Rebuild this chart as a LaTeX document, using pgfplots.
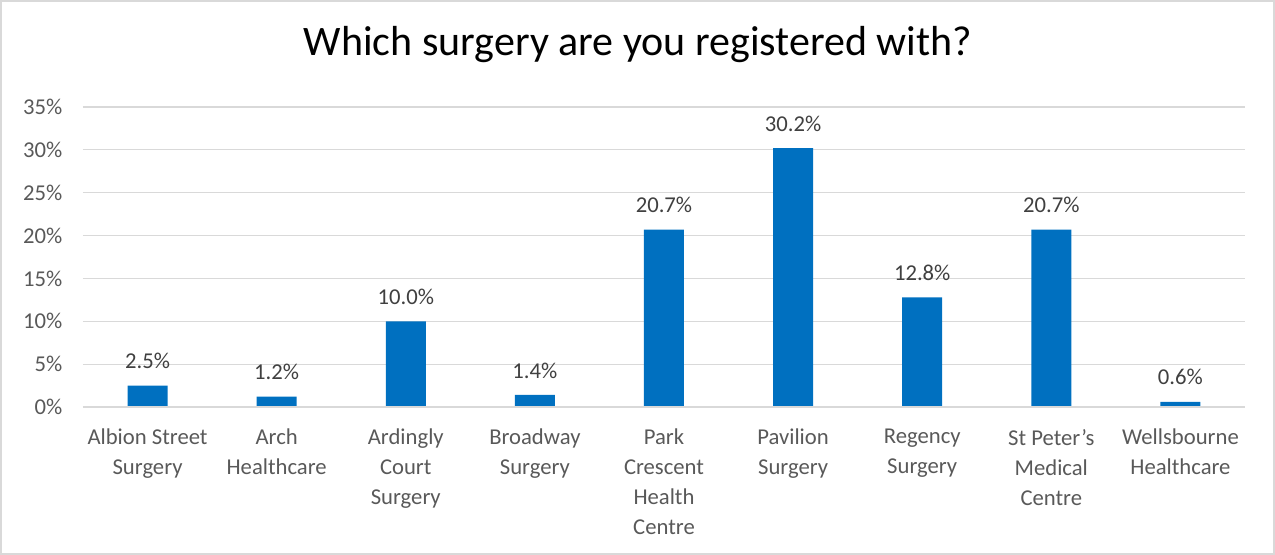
\documentclass[border=0pt]{standalone}
\usepackage{pgfplots}
\pgfplotsset{compat=1.18}
\usepackage{fontspec}
\setmainfont{Carlito}
\definecolor{barblue}{HTML}{0070C0}
\definecolor{gridgray}{HTML}{D9D9D9}
\definecolor{txtgray}{HTML}{595959}
\definecolor{lblgray}{HTML}{404040}
\begin{document}
\begin{tikzpicture}[x=0.75pt,y=0.75pt]
\draw[gridgray, line width=1.5pt] (1,1) rectangle (1274,554);
\path[use as bounding box] (0,0) rectangle (1275,555);
\node[font=\fontsize{31.5}{36}\selectfont, text=black] at (638,510) {Which surgery are you registered with?};
\begin{axis}[
  at={(62.25pt,111pt)}, anchor=south west,
  scale only axis,
  width=871.5pt, height=225pt,
  ymin=0, ymax=35,
  xmin=-0.5, xmax=8.5,
  ytick={0,5,...,35},
  yticklabel={\pgfmathprintnumber{\tick}\%},
  /pgf/number format/assume math mode=true,
  ymajorgrids, grid style={gridgray, line width=0.9pt},
  axis line style={draw=none},
  axis x line*=bottom,
  major tick length=0pt,
  tick style={draw=none},
  xtick=data,
  xticklabels={{Albion Street\\Surgery},{Arch\\Healthcare},{Ardingly\\Court\\Surgery},{Broadway\\Surgery},{Park\\Crescent\\Health\\Centre},{Pavilion\\Surgery},{Regency\\Surgery},{St Peter’s\\Medical\\Centre},{Wellsbourne\\Healthcare}},
  xticklabel style={align=center, font=\fontsize{17}{22.5}\selectfont, text=txtgray, yshift=-13pt},
  yticklabel style={font=\fontsize{17}{22.5}\selectfont, text=txtgray, xshift=-12pt},
  ybar, bar width=30pt,
  nodes near coords={\pgfmathprintnumber[fixed,fixed zerofill,precision=1]{\pgfplotspointmeta}\%},
  nodes near coords style={font=\fontsize{17}{20}\selectfont, text=lblgray, /pgf/number format/assume math mode=true, yshift=9pt},
  clip=false,
]
\addplot[fill=barblue, draw=none, bar shift=0pt] coordinates {
(0,2.5) (1,1.2) (2,10.0) (3,1.4) (4,20.7) (5,30.2) (6,12.8) (7,20.7) (8,0.6)
};
\draw[gridgray, line width=0.9pt] (axis cs:-0.5,0) -- (axis cs:8.5,0);
\end{axis}
\end{tikzpicture}
\end{document}
